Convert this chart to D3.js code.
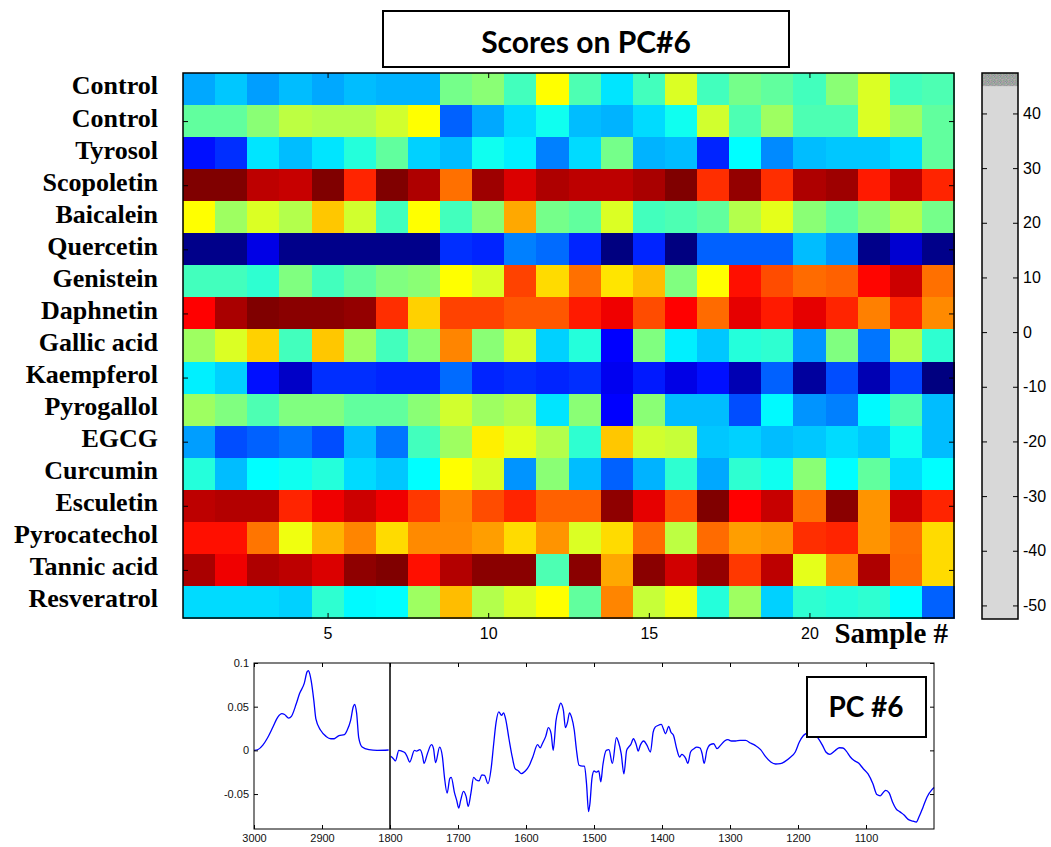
<!DOCTYPE html>
<html>
<head>
<meta charset="utf-8">
<script src="https://cdn.jsdelivr.net/npm/d3@7"></script>
<style>
  html, body { margin: 0; padding: 0; background: #ffffff; }
  svg { display: block; }
</style>
</head>
<body>
<svg id="chart" width="1051" height="847"></svg>
<script>
// ---------------- DATA ----------------
const rowLabels = ["Control","Control","Tyrosol","Scopoletin","Baicalein","Quercetin","Genistein","Daphnetin","Gallic acid","Kaempferol","Pyrogallol","EGCG","Curcumin","Esculetin","Pyrocatechol","Tannic acid","Resveratrol"];
const sampleTicks = [5, 10, 15, 20];
const colorbarTicks = [40, 30, 20, 10, 0, -10, -20, -30, -40, -50];

// scores per row (samples 1..24)
const scores = [
  [-21,-18,-22,-19,-21,-19,-20,-20,-1,1,-6,12.5,-5,-15,-6,9,-6,-1,-3,-6,1,9,-6,-5],
  [-3,-3,1,6,5,5,8,12.5,-28,-21,-16,-11,-19,-20,-16,-11,8,-5,3,-5,-5,9,3,-3],
  [-36,-33,-15,-19,-15,-9,-3,-17,-19,-11,-14,-25,-16,-1,-20,-19,-34,-12.5,-24,-19,-18,-18,-16,-3],
  [50,50,44,43,50,34,50,45.5,26.5,47,41,45.5,44,44,46,50,33,48,33,45.5,47,35,44,34],
  [12.5,3,9,5,18,8,-6,12.5,-6,1,21,-1,-3,9,-6,-5,-3,5,10,1,-3,1,5,-1],
  [-49,-49,-40,-49,-49,-49,-49,-49,-33,-34,-25,-27,-34,-50,-34,-50,-28,-28,-28,-19,-23,-49,-42,-49],
  [-6,-6,-8,0,-6,-3,0,1,12.5,9,31,16,26.5,15,19,0,12.5,36,30,27,28,37,42.5,26.5],
  [37.5,46,50,49,49,48,33,17,31,31,29,29,35,39,30,37.5,27,40,35,40,34,25,34,24],
  [3,9,17,-6,18,3,-6,1,24.5,1,8,-17,-9,-37.5,0,-14,-18,-9,-8,-23,0,-26,5,-8],
  [-14,-17,-36,-43,-33,-33,-34,-34,-27,-34,-33,-34,-33,-39,-35,-40,-36,-45,-28,-47,-30,-45,-31,-50],
  [3,0,-5,0,0,-3,-3,1,8,3,5,-15,1,-37.5,1,-19,-19,-30,-13,-23,-25,-13,-5,-19],
  [-22,-30,-28,-26,-30,-19,-26,-6,3,14,10,5,-8,18,8,7,-18,-17,-19,-18,-16,-18,-11,-19],
  [-9,-19,-12.5,-11,-9,-16,-18,-12.5,12.5,9,-23,1,-19,-28,-20,-8,-21,-8,-11,1,-12.5,-3,-16,-12.5],
  [44,45,45,34,39,42.5,39,32,24.5,30,34,28,28,48.5,40,30,50,37.5,43,26.5,49,23,42.5,34],
  [36,36,26,11,20,24.5,16,24,24,22,16,23,9,16,27,6,27,22,23,33,34,23,26.5,16],
  [46,39,45.5,44,41,48.5,50,36,45,49,49,-5,49,21,49,42,48,32,44,10,24,45.5,27,16],
  [-16,-16,-16,-17,-8,-13,-12.5,3,19,5,9,12.5,-3,24.5,7,11,-9,3,-17,-8,-9,-8,-12.5,-28]
];

// PC#6 loading, high wavenumber region (3000-2800)
const wnHigh = [3000,2994,2987,2980,2972,2965,2959,2955,2949,2945,2938,2933,2926,2922,2920,2918,2916,2912,2909,2902,2894,2887,2882,2875,2867,2863,2858,2854,2852,2849,2846,2841,2831,2819,2802];
const loadHigh = [0,0.001,0.006,0.0145,0.027,0.038,0.042,0.041,0.037,0.039,0.053,0.065,0.077,0.0898,0.0913,0.0875,0.080,0.057,0.036,0.023,0.016,0.0133,0.0133,0.017,0.018,0.023,0.034,0.050,0.0525,0.042,0.0145,0.0038,0.0008,0,0.0004];

// PC#6 loading, fingerprint region (1800-1000)
const wnLow = [1799,1795,1792,1787,1783,1778,1775,1771,1764,1761,1756,1752,1750,1745,1739,1736,1733,1727,1723,1720,1716,1712,1710,1705,1702,1699,1696,1692,1688,1685,1681,1677,1673,1669,1665,1661,1656,1651,1648,1644,1640,1636,1633,1630,1625,1620,1616,1611,1607,1601,1595,1590,1583,1579,1576,1571,1567,1563,1560,1556,1552,1549,1545,1542,1539,1536,1533,1529,1526,1522,1517,1514,1511,1508,1506,1503,1500,1497,1493,1490,1487,1482,1478,1473,1467,1464,1460,1456,1452,1449,1446,1442,1438,1435,1432,1427,1422,1417,1413,1410,1406,1401,1398,1395,1390,1387,1383,1379,1374,1371,1365,1362,1358,1353,1349,1344,1341,1338,1334,1329,1324,1319,1314,1308,1303,1298,1292,1285,1277,1270,1263,1255,1248,1240,1233,1226,1219,1212,1204,1198,1192,1187,1182,1177,1171,1164,1159,1153,1145,1139,1134,1129,1123,1118,1111,1104,1097,1090,1084,1079,1074,1071,1066,1061,1056,1050,1044,1038,1031,1026,1022,1016,1010,1003,1000];
const loadLow = [-0.0068,-0.0095,-0.012,0,-0.0008,-0.0027,-0.0068,-0.0133,0,-0.0008,0.0008,-0.0068,-0.015,-0.0038,0.0065,0.002,-0.014,0.0038,-0.0068,-0.030,-0.049,-0.032,-0.031,-0.049,-0.057,-0.066,-0.057,-0.047,-0.053,-0.064,-0.049,-0.031,-0.034,-0.035,-0.028,-0.0285,-0.038,-0.019,0.0038,0.032,0.044,0.040,0.043,0.036,0.013,-0.0084,-0.021,-0.0236,-0.0266,-0.0236,-0.017,-0.0076,0.0065,0.003,0.0076,0.016,0.026,0.019,0,0.0335,0.0476,0.054,0.0457,0.026,0.032,0.043,0.038,0.023,0.0019,-0.017,-0.018,-0.018,-0.038,-0.070,-0.061,-0.032,-0.0236,-0.025,-0.0236,-0.036,-0.017,0,0.0008,-0.015,0.0145,0.0095,-0.0038,-0.027,0,0.0038,0.0065,0.0133,0.0068,-0.0008,0.0057,0.0107,0.0057,-0.0019,0.021,0.0266,0.0285,0.0297,0.0247,0.019,0.0274,0.021,0.017,0.0038,-0.0076,-0.0046,-0.0095,-0.015,-0.0019,0.0019,0.0038,0.0027,-0.0038,-0.015,0,0.0065,0.0076,0.0019,0.0057,0.0107,0.0122,0.0107,0.0107,0.0114,0.0114,0.0084,0.0057,0.0008,-0.0068,-0.0133,-0.0156,-0.0152,-0.0126,-0.0084,-0.0019,0.0095,0.017,0.0198,0.022,0.0198,0.0145,0.0057,-0.0019,-0.0046,0,0.003,0.0027,-0.0008,-0.0076,-0.0114,-0.0145,-0.021,-0.027,-0.038,-0.0506,-0.052,-0.0476,-0.0457,-0.0487,-0.059,-0.0666,-0.0704,-0.074,-0.079,-0.081,-0.082,-0.076,-0.0647,-0.053,-0.045,-0.0426];

const specXTicks = [3000, 2900, 1800, 1700, 1600, 1500, 1400, 1300, 1200, 1100];
const specYTicks = [-0.05, 0, 0.05, 0.1];

// ---------------- DRAWING ----------------
const svg = d3.select("#chart");
const sansFont = "'Liberation Sans', Arial, Helvetica, sans-serif";
const serifFont = "'Liberation Serif', 'Times New Roman', serif";
const boxFont = "Lato, 'Open Sans', sans-serif";

// jet colormap
const jet = d3.scaleLinear()
  .domain([0, 0.125, 0.375, 0.625, 0.875, 1])
  .range(["#000080", "#0000ff", "#00ffff", "#ffff00", "#ff0000", "#800000"])
  .clamp(true);
const toT = d3.scaleLinear().domain([-50, 50]).range([0, 1]).clamp(true);
const color = v => jet(toT(v));

// ---- Heatmap ----
const hm = { x0: 183, x1: 954, y0: 73, y1: 618 };
const nCols = scores[0].length, nRows = scores.length;
const x = d3.scaleLinear().domain([0.5, nCols + 0.5]).range([hm.x0, hm.x1]);
const y = d3.scaleLinear().domain([0.5, nRows + 0.5]).range([hm.y0, hm.y1]);

const cells = [];
scores.forEach((row, r) => row.forEach((v, c) => cells.push({ r: r + 1, c: c + 1, v })));

svg.append("g").selectAll("rect").data(cells).join("rect")
  .attr("x", d => x(d.c - 0.5))
  .attr("y", d => y(d.r - 0.5))
  .attr("width", d => x(d.c + 0.5) - x(d.c - 0.5) + 0.5)
  .attr("height", d => y(d.r + 0.5) - y(d.r - 0.5) + 0.5)
  .attr("fill", d => color(d.v))
  .attr("shape-rendering", "crispEdges");

// axes (ticks inward)
const axB = svg.append("g").attr("transform", `translate(0,${hm.y1})`)
  .call(d3.axisBottom(x).tickValues(sampleTicks).tickSize(-5).tickPadding(10));
const axT = svg.append("g").attr("transform", `translate(0,${hm.y0})`)
  .call(d3.axisTop(x).tickValues(sampleTicks).tickSize(-5).tickFormat(""));
const rowTicks = d3.range(2, nRows + 1, 2);
const axL = svg.append("g").attr("transform", `translate(${hm.x0},0)`)
  .call(d3.axisLeft(y).tickValues(rowTicks).tickSize(-5).tickFormat(""));
const axR = svg.append("g").attr("transform", `translate(${hm.x1},0)`)
  .call(d3.axisRight(y).tickValues(rowTicks).tickSize(-5).tickFormat(""));
[axB, axT, axL, axR].forEach(g => {
  g.select(".domain").remove();
  g.selectAll(".tick line").attr("stroke", "#000").attr("stroke-width", 1);
});
axB.selectAll("text").attr("font-family", sansFont).attr("font-size", 16).attr("fill", "#000");

svg.append("rect")
  .attr("x", hm.x0).attr("y", hm.y0)
  .attr("width", hm.x1 - hm.x0).attr("height", hm.y1 - hm.y0)
  .attr("fill", "none").attr("stroke", "#000").attr("stroke-width", 1.5);

// row labels
svg.append("g").selectAll("text").data(rowLabels).join("text")
  .attr("x", 158)
  .attr("y", (d, i) => y(i + 1))
  .attr("dy", "0.21em")
  .attr("text-anchor", "end")
  .attr("font-family", serifFont)
  .attr("font-weight", "bold")
  .attr("font-size", 26)
  .attr("fill", "#000")
  .text(d => d);

// x-axis title
svg.append("text")
  .attr("x", 948).attr("y", 643)
  .attr("text-anchor", "end")
  .attr("font-family", serifFont)
  .attr("font-weight", "bold")
  .attr("font-size", 29)
  .text("Sample #");

// title box
svg.append("rect")
  .attr("x", 383).attr("y", 11).attr("width", 406).attr("height", 56)
  .attr("fill", "#fff").attr("stroke", "#000").attr("stroke-width", 2);
svg.append("text")
  .attr("x", 586).attr("y", 53)
  .attr("text-anchor", "middle")
  .attr("font-family", boxFont)
  .attr("font-weight", "bold")
  .attr("font-size", 30)
  .text("Scores on PC#6");

// ---- Colorbar ----
const cb = { x0: 982, x1: 1018, y0: 73, y1: 619 };
const cbY = d3.scaleLinear().domain([-52.3, 47.4]).range([618, 73]);
const defs = svg.append("defs");
const pat = defs.append("pattern").attr("id", "speckle")
  .attr("patternUnits", "userSpaceOnUse").attr("width", 6).attr("height", 6);
const speckColors = ["#9a9a9a","#a89aa6","#8fa08f","#b0a4a0","#9a9fb2","#a6a6a6","#8c8c96","#b4aab0","#98a69c"];
for (let i = 0; i < 6; i++) for (let j = 0; j < 6; j++) {
  pat.append("rect").attr("x", i).attr("y", j).attr("width", 1).attr("height", 1)
    .attr("fill", speckColors[(i * 4 + j * 7 + i * j) % speckColors.length]);
}
svg.append("rect")
  .attr("x", cb.x0).attr("y", cb.y0).attr("width", cb.x1 - cb.x0).attr("height", cb.y1 - cb.y0)
  .attr("fill", "#d8d8d8");
svg.append("rect")
  .attr("x", cb.x0).attr("y", cb.y0).attr("width", cb.x1 - cb.x0).attr("height", cbY(45) - cb.y0)
  .attr("fill", "url(#speckle)");
const cbL = svg.append("g").attr("transform", `translate(${cb.x0},0)`)
  .call(d3.axisLeft(cbY).tickValues(colorbarTicks).tickSize(-5).tickFormat(""));
const cbR = svg.append("g").attr("transform", `translate(${cb.x1},0)`)
  .call(d3.axisRight(cbY).tickValues(colorbarTicks).tickSize(-5).tickPadding(5).tickFormat(d => String(d)));
[cbL, cbR].forEach(g => {
  g.select(".domain").remove();
  g.selectAll(".tick line").attr("stroke", "#000");
});
cbR.selectAll("text").attr("font-family", sansFont).attr("font-size", 16).attr("fill", "#000");
svg.append("rect")
  .attr("x", cb.x0).attr("y", cb.y0).attr("width", cb.x1 - cb.x0).attr("height", cb.y1 - cb.y0)
  .attr("fill", "none").attr("stroke", "#000").attr("stroke-width", 1.5);

// ---- Spectrum (PC#6 loading) ----
const sp = { x0: 254, xb: 390, x1: 934, y0: 663, y1: 829 };
const sx = d3.scaleLinear().domain([3000, 2800, 1800, 1000]).range([sp.x0, sp.xb, sp.xb, sp.x1]);
const sy = d3.scaleLinear().domain([-0.09, 0.1]).range([sp.y1, sp.y0]);

const line = d3.line().x(d => sx(d[0])).y(d => sy(d[1])).curve(d3.curveMonotoneX);
const segHigh = wnHigh.map((w, i) => [w, loadHigh[i]]);
const segLow = wnLow.map((w, i) => [w, loadLow[i]]);
[segHigh, segLow].forEach(seg => {
  svg.append("path").datum(seg)
    .attr("d", line)
    .attr("fill", "none").attr("stroke", "#0000ff").attr("stroke-width", 1.3);
});

const sAxB = svg.append("g").attr("transform", `translate(0,${sp.y1})`)
  .call(d3.axisBottom(sx).tickValues(specXTicks).tickSize(-4).tickPadding(5).tickFormat(d3.format("d")));
const sAxT = svg.append("g").attr("transform", `translate(0,${sp.y0})`)
  .call(d3.axisTop(sx).tickValues(specXTicks).tickSize(-4).tickFormat(""));
const sAxL = svg.append("g").attr("transform", `translate(${sp.x0},0)`)
  .call(d3.axisLeft(sy).tickValues(specYTicks).tickSize(-4).tickPadding(5).tickFormat(d => d === 0 ? "0" : String(d)));
const sAxR = svg.append("g").attr("transform", `translate(${sp.x1},0)`)
  .call(d3.axisRight(sy).tickValues(specYTicks).tickSize(-4).tickFormat(""));
[sAxB, sAxT, sAxL, sAxR].forEach(g => {
  g.select(".domain").remove();
  g.selectAll(".tick line").attr("stroke", "#000");
  g.selectAll("text").attr("font-family", sansFont).attr("font-size", 11).attr("fill", "#111");
});
svg.append("rect")
  .attr("x", sp.x0).attr("y", sp.y0).attr("width", sp.x1 - sp.x0).attr("height", sp.y1 - sp.y0)
  .attr("fill", "none").attr("stroke", "#000").attr("stroke-width", 1);
svg.append("line")
  .attr("x1", sx(1800)).attr("x2", sx(1800)).attr("y1", sp.y0).attr("y2", sp.y1)
  .attr("stroke", "#000").attr("stroke-width", 1.5);

// PC #6 box
svg.append("rect")
  .attr("x", 807).attr("y", 677).attr("width", 119).attr("height", 60)
  .attr("fill", "#fff").attr("stroke", "#000").attr("stroke-width", 2);
svg.append("text")
  .attr("x", 866).attr("y", 717)
  .attr("text-anchor", "middle")
  .attr("font-family", boxFont)
  .attr("font-weight", "bold")
  .attr("font-size", 28)
  .text("PC #6");
</script>
</body>
</html>
